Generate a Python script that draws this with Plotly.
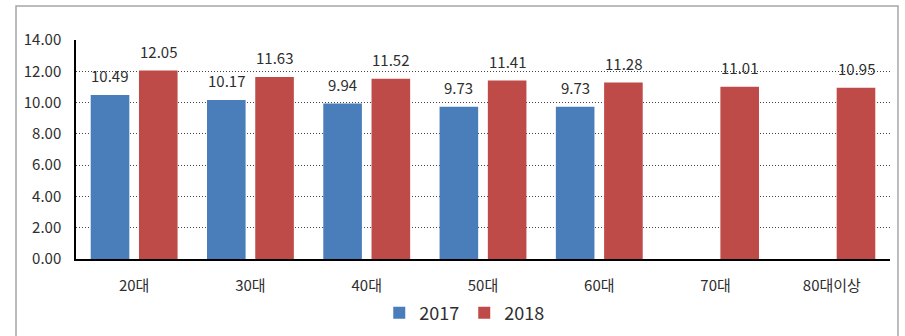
import plotly.graph_objects as go

categories = ["20대", "30대", "40대", "50대", "60대", "70대", "80대이상"]
values_2017 = [10.49, 10.17, 9.94, 9.73, 9.73, None, None]
values_2018 = [12.05, 11.63, 11.52, 11.41, 11.28, 11.01, 10.95]
series_names = ["2017", "2018"]
colors = ["#4A7EBB", "#BE4B48"]

FONT = "Noto Sans CJK KR, Noto Sans, sans-serif"
TXT = "#2E2E2E"

fig = go.Figure()
for name, vals, col in zip(series_names, [values_2017, values_2018], colors):
    fig.add_trace(go.Bar(name=name, x=categories, y=vals, marker_color=col,
                         marker_line_width=0))

# data labels via annotations positioned by the axes
for i, (vals, off) in enumerate([(values_2017, -0.5), (values_2018, 0.5)]):
    for c, v in zip(categories, vals):
        if v is None:
            continue
        fig.add_annotation(x=c, y=v, xref="x", yref="y", text=f"{v:.2f}",
                           showarrow=False, yanchor="bottom", yshift=7,
                           xshift=off * 48.3,
                           font=dict(family=FONT, size=15, color=TXT))

fig.add_shape(type="rect", xref="paper", yref="paper",
              x0=-0.0737, x1=1.0098, y0=-0.45, y1=1.155,
              line=dict(color="#A6A6A6", width=1.5), fillcolor="rgba(0,0,0,0)", layer="below")

fig.update_layout(
    width=905, height=336,
    margin=dict(l=76, r=15, t=40, b=77, autoexpand=False),
    paper_bgcolor="white", plot_bgcolor="white",
    barmode="group", bargap=0.17, bargroupgap=0.2,
    font=dict(family=FONT, size=15, color=TXT),
    showlegend=True,
    legend=dict(orientation="h", xref="container", yref="container",
                x=0.513, xanchor="center", y=0.068, yanchor="middle",
                font=dict(family=FONT, size=18, color=TXT), itemwidth=30,
                traceorder="normal"),
)
fig.update_xaxes(showgrid=False, showline=True, linecolor="black", linewidth=1.5,
                 ticks="", ticklabelstandoff=12, automargin=False,
                 tickfont=dict(family=FONT, size=15, color=TXT))
fig.update_yaxes(range=[0, 14], dtick=2, tickformat=".2f",
                 showgrid=True, gridcolor="#444444", griddash="1px,2px", gridwidth=1,
                 showline=True, linecolor="black", linewidth=1.5,
                 zeroline=False, ticks="", ticklabelstandoff=10, automargin=False,
                 tickfont=dict(family=FONT, size=15, color=TXT))

fig.write_html("out.html", config={"displayModeBar": False},
               post_script="document.body.style.margin='0';")
